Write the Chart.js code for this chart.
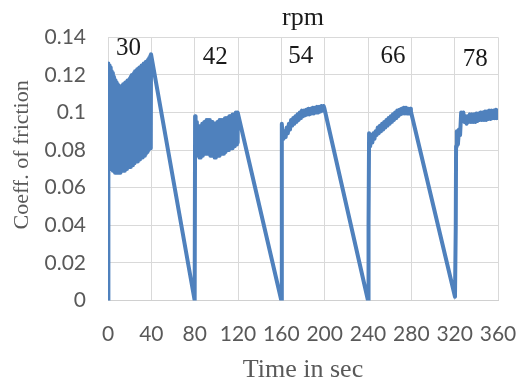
<!DOCTYPE html>
<html>
<head>
<meta charset="utf-8">
<script src="https://cdn.jsdelivr.net/npm/chart.js@4/dist/chart.umd.min.js"></script>
<style>
  html, body { margin: 0; padding: 0; background: #ffffff; }
  canvas { display: block; }
</style>
</head>
<body>
<canvas id="c" width="521" height="387"></canvas>
<script>
// ---- data ----
const chartTitle = 'rpm';
const xTitle = 'Time in sec';
const yTitle = 'Coeff. of friction';
const xTicks = [0, 40, 80, 120, 160, 200, 240, 280, 320, 360];
const yTickLabels = ['0', '0.02', '0.04', '0.06', '0.08', '0.1', '0.12', '0.14'];

const rpmLabels = ['30', '42', '54', '66', '78'];
const rpmLabelTime = [19, 99, 178, 263, 339];
const rpmLabelCof = [0.134, 0.1293, 0.130, 0.130, 0.1284];

const t30 = [0,0.2,
  0.5,1,1.5,2,2.5,3,3.5,4,4.5,5,5.5,6,6.5,7,7.5,8,8.5,9,9.5,10,
  10.5,11,11.5,12,12.5,13,13.5,14,14.5,15,15.5,16,16.5,17,17.5,18,18.5,19,19.5,20,
  20.5,21,21.5,22,22.5,23,23.5,24,24.5,25,25.5,26,26.5,27,27.5,28,28.5,29,29.5,30,
  30.5,31,31.5,32,32.5,33,33.5,34,34.5,35,35.5,36,36.5,37,37.5,38,38.5,39,39.5,39.7];
const cof30 = [0,0.126,
  0.072,0.125,0.071,0.124,0.070,0.122,0.070,0.121,0.069,0.119,0.069,0.118,0.068,0.117,0.068,0.116,0.068,0.115,0.068,0.114,
  0.068,0.114,0.068,0.114,0.069,0.114,0.069,0.115,0.069,0.115,0.069,0.116,0.070,0.116,0.070,0.117,0.071,0.117,0.071,0.118,
  0.071,0.119,0.072,0.120,0.072,0.120,0.073,0.121,0.073,0.122,0.074,0.122,0.074,0.123,0.074,0.123,0.075,0.124,0.075,0.124,
  0.076,0.125,0.076,0.125,0.077,0.126,0.077,0.126,0.078,0.127,0.079,0.127,0.079,0.128,0.080,0.129,0.081,0.130,0.081,0.131];

const t42 = [80,80.4,
  80.7,81,81.5,82,82.5,83,83.5,84,84.5,85,85.5,86,86.5,87,87.5,88,88.5,89,89.5,90,
  90.5,91,91.5,92,92.5,93,93.5,94,94.5,95,95.5,96,96.5,97,97.5,98,98.5,99,99.5,100,
  100.5,101,101.5,102,102.5,103,103.5,104,104.5,105,105.5,106,106.5,107,107.5,108,108.5,109,109.5,110,
  110.5,111,111.5,112,112.5,113,113.5,114,114.5,115,115.5,116,116.5,117,117.5,118,118.5,119,119.5,119.7];
const cof42 = [0,0.098,
  0.080,0.097,0.079,0.095,0.078,0.093,0.077,0.092,0.076,0.092,0.076,0.093,0.077,0.094,0.077,0.094,0.078,0.095,0.078,0.095,
  0.078,0.096,0.078,0.096,0.078,0.096,0.078,0.096,0.077,0.095,0.077,0.095,0.077,0.094,0.077,0.094,0.076,0.094,0.076,0.094,
  0.077,0.095,0.077,0.095,0.077,0.096,0.078,0.096,0.078,0.096,0.078,0.096,0.078,0.096,0.079,0.097,0.079,0.097,0.080,0.097,
  0.080,0.097,0.080,0.098,0.081,0.098,0.081,0.098,0.081,0.099,0.082,0.099,0.082,0.099,0.083,0.100,0.083,0.100,0.084,0.100];

const t54 = [160,160.3,160.6,161,162,163,164,165,166,167,168,169,170,171,172,173,174,175,176,177,178,179,180,181,182,183,184,185,186,187,188,189,190,191,192,193,194,195,196,197,198,199,199.6];
const cof54 = [0,0.040,0.094,0.089,0.086,0.090,0.087,0.092,0.089,0.094,0.091,0.096,0.093,0.097,0.094,0.098,0.095,0.099,0.096,0.100,0.097,0.101,0.098,0.101,0.0985,0.1015,0.099,0.102,0.099,0.102,0.0995,0.1025,0.0995,0.1025,0.100,0.103,0.100,0.103,0.1005,0.1035,0.101,0.1035,0.1025];

const t66 = [240,240.5,241,242,243,244,245,246,247,248,249,250,251,252,253,254,255,256,257,258,259,260,261,262,263,264,265,266,267,268,269,270,271,272,273,274,275,276,277,278,279,279.6];
const cof66 = [0,0.040,0.089,0.082,0.088,0.084,0.089,0.086,0.090,0.088,0.092,0.089,0.093,0.090,0.094,0.091,0.095,0.092,0.096,0.093,0.097,0.094,0.098,0.095,0.099,0.096,0.100,0.097,0.101,0.098,0.1015,0.099,0.102,0.0995,0.1025,0.0995,0.1025,0.0995,0.102,0.0995,0.102,0.1005];

const t78 = [320.3,321,321.3,322,323,324,325,326,327,328,329,330,331,332,333,334,335,336,337,338,339,340,341,342,343,344,345,346,347,348,349,350,351,352,353,354,355,356,357,358,359,360];
const cof78 = [0.002,0.039,0.082,0.090,0.083,0.091,0.088,0.100,0.097,0.100,0.095,0.098,0.094,0.098,0.095,0.099,0.095,0.099,0.095,0.099,0.095,0.0995,0.0955,0.0995,0.096,0.100,0.096,0.100,0.096,0.1005,0.096,0.1005,0.0965,0.101,0.0965,0.101,0.097,0.101,0.097,0.1015,0.097,0.101];

// ---- build points ----
const segments = [[t30, cof30], [t42, cof42], [t54, cof54], [t66, cof66], [t78, cof78]];
const points = [];
segments.forEach(([ts, vs]) => ts.forEach((t, i) => points.push({ x: t, y: vs[i] })));

const SERIF = '"Liberation Serif", "Times New Roman", serif';
const SANS = 'Lato, "Open Sans", sans-serif';

const textPlugin = {
  id: 'chartTexts',
  afterDraw(chart) {
    const { ctx, chartArea, scales } = chart;
    const xs = scales.x, ys = scales.y;
    ctx.save();
    // chart title
    ctx.fillStyle = '#1a1a1a';
    ctx.textAlign = 'center';
    ctx.textBaseline = 'alphabetic';
    ctx.font = '26px ' + SERIF;
    ctx.fillText(chartTitle, (chartArea.left + chartArea.right) / 2, chartArea.top - 12);
    // rpm labels inside plot
    ctx.font = '25px ' + SERIF;
    ctx.textBaseline = 'middle';
    rpmLabels.forEach((s, i) => {
      ctx.fillText(s, xs.getPixelForValue(rpmLabelTime[i]), ys.getPixelForValue(rpmLabelCof[i]));
    });
    // y axis title
    ctx.fillStyle = '#595959';
    ctx.font = '22px ' + SERIF;
    ctx.translate(22, (chartArea.top + chartArea.bottom) / 2 - 14);
    ctx.rotate(-Math.PI / 2);
    ctx.fillText(yTitle, 0, 0);
    ctx.restore();
  }
};

new Chart(document.getElementById('c'), {
  type: 'scatter',
  data: {
    datasets: [{
      data: points,
      showLine: true,
      borderColor: '#4F81BD',
      backgroundColor: '#4F81BD',
      borderWidth: 4,
      borderJoinStyle: 'round',
      borderCapStyle: 'round',
      pointRadius: 0,
      tension: 0,
      fill: false
    }]
  },
  options: {
    responsive: false,
    animation: false,
    layout: { padding: { top: 37.3, right: 23, left: 0, bottom: 0 } },
    plugins: {
      legend: { display: false },
      tooltip: { enabled: false },
      title: { display: false }
    },
    scales: {
      x: {
        type: 'linear',
        min: 0,
        max: 360,
        afterBuildTicks: (s) => { s.ticks = xTicks.map(v => ({ value: v })); },
        ticks: {
          color: '#595959',
          font: { family: SANS, size: 21 },
          padding: 21,
          maxRotation: 0,
          autoSkip: false
        },
        grid: { color: '#d9d9d9', lineWidth: 1, drawTicks: false },
        border: { display: true, color: '#d0d0d0' },
        title: {
          display: true,
          text: xTitle,
          color: '#595959',
          font: { family: SERIF, size: 26 },
          padding: { top: 0, bottom: 1 }
        },
        afterFit: (s) => { s.height = 86.5; s.paddingLeft = 0; s.paddingRight = 0; }
      },
      y: {
        type: 'linear',
        min: 0,
        max: 0.14,
        ticks: {
          stepSize: 0.02,
          color: '#595959',
          font: { family: SANS, size: 21 },
          padding: 22,
          callback: (v, i) => yTickLabels[i]
        },
        grid: { color: '#d9d9d9', lineWidth: 1, drawTicks: false },
        border: { display: false },
        afterFit: (s) => { s.width = 108; s.paddingTop = 0; s.paddingBottom = 0; }
      }
    }
  },
  plugins: [textPlugin]
});
</script>
</body>
</html>
